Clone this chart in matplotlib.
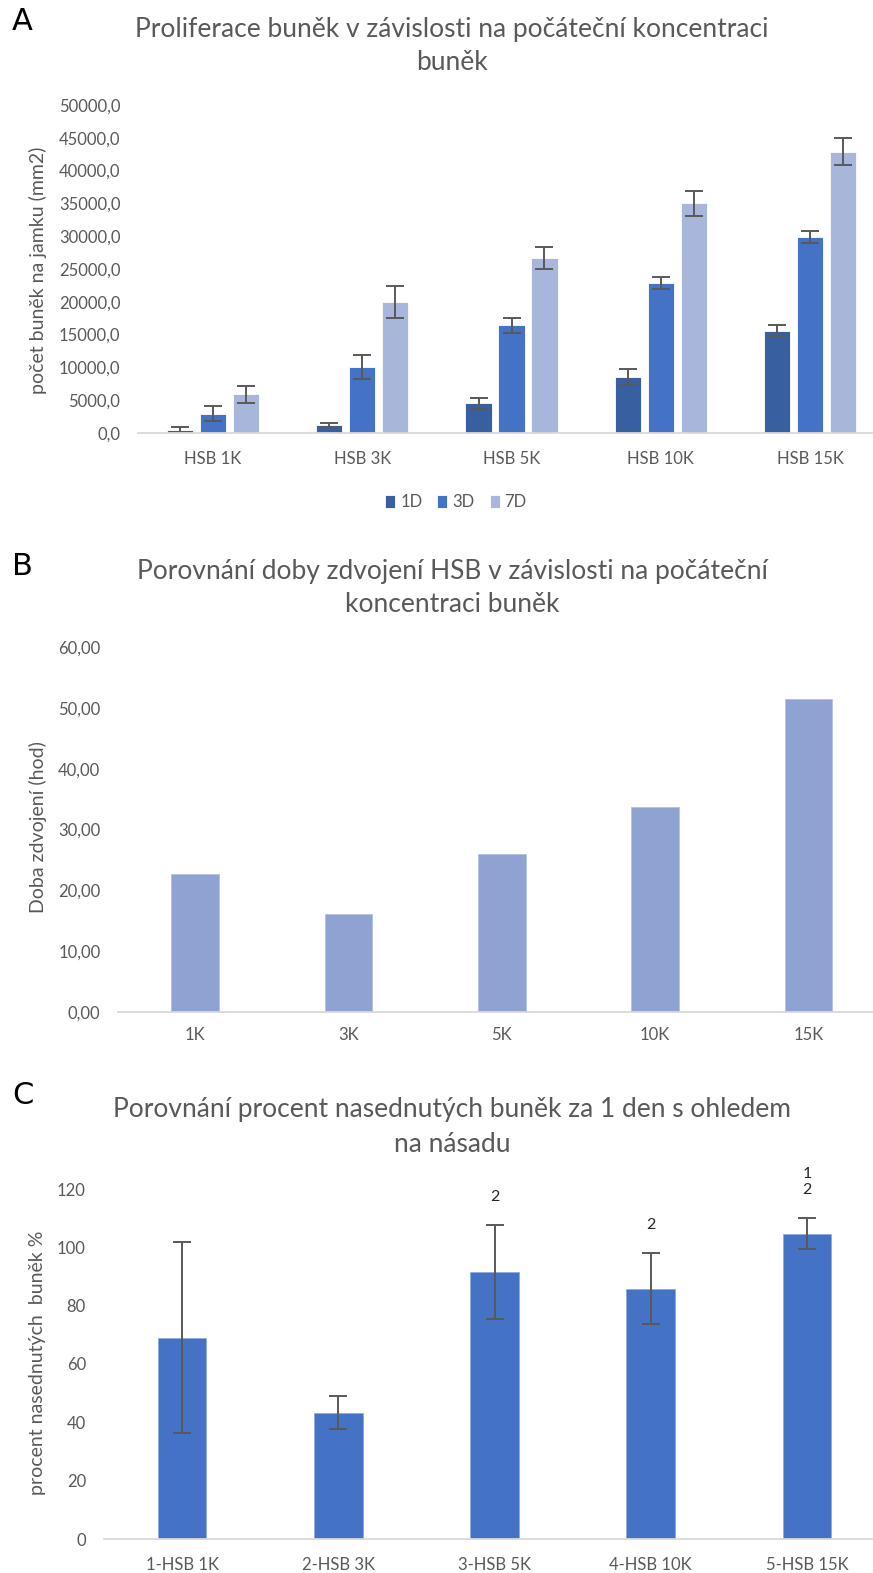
import matplotlib
matplotlib.use("Agg")
import matplotlib.pyplot as plt
import numpy as np

plt.rcParams['font.family'] = ['Lato', 'DejaVu Sans']

# ---------------- data ----------------
# Panel A
a_categories = ["HSB 1K", "HSB 3K", "HSB 5K", "HSB 10K", "HSB 15K"]
a_series = ["1D", "3D", "7D"]
a_1d = [500, 1200, 4500, 8500, 15600]
a_3d = [2950, 10100, 16400, 22850, 29900]
a_7d = [5900, 20000, 26700, 35000, 42900]
a_1d_err = [350, 250, 800, 1200, 800]
a_3d_err = [1100, 1800, 1200, 900, 950]
a_7d_err = [1300, 2450, 1700, 1900, 2100]
a_yticks = [0, 5000, 10000, 15000, 20000, 25000, 30000, 35000, 40000, 45000, 50000]

# Panel B
b_categories = ["1K", "3K", "5K", "10K", "15K"]
b_values = [22.75, 16.15, 25.95, 33.75, 51.4]
b_yticks = [0, 10, 20, 30, 40, 50, 60]

# Panel C
c_categories = ["1-HSB 1K", "2-HSB 3K", "3-HSB 5K", "4-HSB 10K", "5-HSB 15K"]
c_values = [69.0, 43.3, 91.4, 85.8, 104.6]
c_err = [32.8, 5.6, 16.1, 12.2, 5.3]
c_labels = ["", "", "2", "2", "1\n2"]
c_yticks = [0, 20, 40, 60, 80, 100, 120]

# ---------------- styling ----------------
W, H = 873, 1573
fig = plt.figure(figsize=(W / 100, H / 100), dpi=100)

TXT = '#595959'
AXC = '#D9D9D9'
ERR = '#595959'
col_1d = '#385F9F'
col_3d = '#4472C4'
col_7d = '#A8B6DB'
col_b = '#8FA3D3'
col_c = '#4472C4'

TICK_FS = 12
TITLE_FS = 19
LAB_FS = 14


def px_axes(left, right, top, bottom):
    return fig.add_axes([left / W, 1 - bottom / H, (right - left) / W, (bottom - top) / H])


def style(ax):
    for s in ['top', 'right', 'left']:
        ax.spines[s].set_visible(False)
    ax.spines['bottom'].set_color(AXC)
    ax.spines['bottom'].set_linewidth(1.3)
    ax.tick_params(axis='both', length=0, labelsize=TICK_FS, labelcolor=TXT)
    ax.tick_params(axis='x', pad=13)
    ax.tick_params(axis='y', pad=13)
    ax.set_facecolor('none')


def title(lines_y, lines, x=452):
    for y, t in zip(lines_y, lines):
        fig.text(x / W, 1 - y / H, t, ha='center', va='center', fontsize=TITLE_FS, color=TXT)


def letter(y, t):
    fig.text(12 / W, 1 - y / H, t, ha='left', va='center', fontsize=22, color='black',
             family=['Liberation Sans Narrow', 'DejaVu Sans'])


err_kw = dict(ecolor=ERR, elinewidth=1.4, capsize=6.5, capthick=1.4)

# ---------------- Panel A ----------------
axA = px_axes(138.4, 884.6, 105, 433)
style(axA)
x = np.arange(len(a_categories))
off = 0.221
bw = 0.176
for i, (vals, errs, col, lab) in enumerate(zip([a_1d, a_3d, a_7d], [a_1d_err, a_3d_err, a_7d_err],
                                               [col_1d, col_3d, col_7d], a_series)):
    axA.bar(x + (i - 1) * off, vals, width=bw, color=col, label=lab, edgecolor='white',
            linewidth=0.6, yerr=errs, error_kw=err_kw, zorder=2)
axA.set_xlim(-0.5, 4.5)
axA.set_ylim(0, 50000)
axA.set_yticks(a_yticks)
axA.set_yticklabels([f"{v:.1f}".replace('.', ',') for v in a_yticks])
axA.set_xticks(x)
axA.set_xticklabels(a_categories)
axA.set_ylabel("počet buněk na jamku (mm2)", fontsize=LAB_FS, color=TXT)
axA.yaxis.set_label_coords(-(138.4 - 47) / 746.2, (433 - 270) / 328)
leg = fig.legend(loc='center', bbox_to_anchor=(456 / W, 1 - 502 / H), ncol=3, frameon=False,
                 fontsize=TICK_FS, handlelength=0.6, handleheight=0.8, handletextpad=0.3,
                 columnspacing=0.9, labelcolor=TXT)
title([30, 62], ["Proliferace buněk v závislosti na počáteční koncentraci", "buněk"])
letter(21, "A")

# ---------------- Panel B ----------------
axB = px_axes(118.5, 885, 647, 1012)
style(axB)
xb = np.arange(len(b_categories))
axB.bar(xb, b_values, width=0.31, color=col_b, edgecolor='#B4C2E4', linewidth=0.6, zorder=2)
axB.set_xlim(-0.5, 4.5)
axB.set_ylim(0, 60)
axB.set_yticks(b_yticks)
axB.set_yticklabels([f"{v:.2f}".replace('.', ',') for v in b_yticks])
axB.set_xticks(xb)
axB.set_xticklabels(b_categories)
axB.tick_params(axis='x', pad=11)
axB.set_ylabel("Doba zdvojení (hod)", fontsize=LAB_FS, color=TXT)
axB.yaxis.set_label_coords(-(118.5 - 47) / 766.5, (1012 - 827) / 365)
title([572, 604], ["Porovnání doby zdvojení HSB v závislosti na počáteční", "koncentraci buněk"])
letter(566, "B")

# ---------------- Panel C ----------------
axC = px_axes(104, 885, 1189, 1539)
style(axC)
xc = np.arange(len(c_categories))
axC.bar(xc, c_values, width=0.31, color=col_c, edgecolor='#8FAADC', linewidth=0.6,
        yerr=c_err, error_kw=err_kw, zorder=2)
axC.set_xlim(-0.5, 4.5)
axC.set_ylim(0, 120)
axC.set_yticks(c_yticks)
axC.set_yticklabels([str(v) for v in c_yticks])
axC.set_xticks(xc)
axC.set_xticklabels(c_categories)
axC.set_ylabel("procent nasednutých  buněk %", fontsize=LAB_FS, color=TXT)
axC.yaxis.set_label_coords(-(104 - 46) / 781, (1539 - 1363) / 350)
for xi, v, e, t in zip(xc, c_values, c_err, c_labels):
    if t:
        axC.annotate(t, xy=(xi, v + e), xytext=(0, 21), textcoords='offset pixels',
                     ha='center', va='bottom', fontsize=11.5, color='#262626',
                     linespacing=1.25, annotation_clip=False)
title([1110, 1145], ["Porovnání procent nasednutých buněk za 1 den s ohledem", "na násadu"])
letter(1096, "C")

fig.savefig("out.png", dpi=100, facecolor='white')
